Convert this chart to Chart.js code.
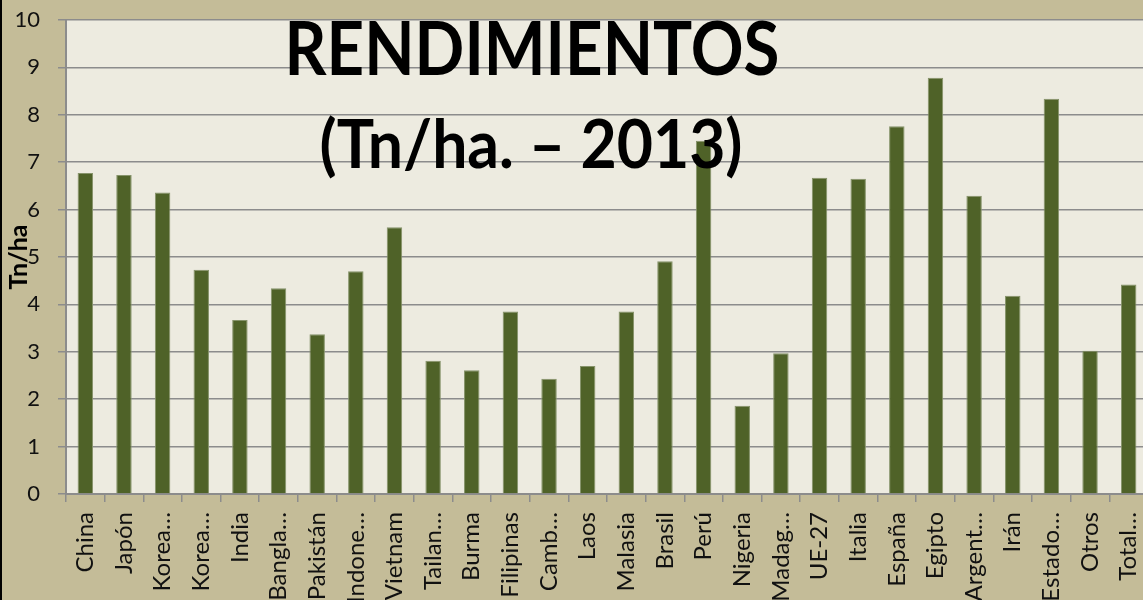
<!DOCTYPE html>
<html lang="es">
<head>
    <meta charset="UTF-8">
    <title>Rendimientos 2013</title>
    <script src="https://cdn.jsdelivr.net/npm/chart.js"></script>
    <style>
        body {
            margin: 0;
            overflow: hidden;
            background-color: #c4bc98;
        }

        .chart-container {
            position: absolute;
            left: 0;
            top: 0;
            width: 1148px;
            height: 620px;
        }

        .edge {
            position: absolute;
            left: 0;
            top: 0;
            width: 2px;
            height: 600px;
            background: #000;
        }
    </style>
</head>
<body>
<div class="chart-container"><canvas id="yieldChart"></canvas></div>
<div class="edge"></div>

<script>
    const countries = ['China', 'Japón', 'Korea…', 'Korea…', 'India', 'Bangla…', 'Pakistán', 'Indone…', 'Vietnam',
        'Tailan…', 'Burma', 'Filipinas', 'Camb…', 'Laos', 'Malasia', 'Brasil', 'Perú', 'Nigeria', 'Madag…',
        'UE-27', 'Italia', 'España', 'Egipto', 'Argent…', 'Irán', 'Estado…', 'Otros', 'Total…'];
    const yields2013 = [6.77, 6.73, 6.36, 4.73, 3.67, 4.34, 3.37, 4.70, 5.63,
        2.81, 2.61, 3.85, 2.43, 2.70, 3.85, 4.91, 7.45, 1.86, 2.97,
        6.67, 6.65, 7.76, 8.78, 6.29, 4.18, 8.34, 3.02, 4.42];
    const yMin = 0;
    const yMax = 10;
    const yStep = 1;
    const titleLines = ['RENDIMIENTOS', '(Tn/ha. – 2013)'];
    const yAxisTitle = 'Tn/ha';

    // plot area background
    const plotBackground = {
        id: 'plotBackground',
        beforeDraw(chart) {
            const {ctx, chartArea} = chart;
            ctx.save();
            ctx.fillStyle = '#edebe0';
            ctx.fillRect(chartArea.left, chartArea.top, chartArea.right - chartArea.left, chartArea.bottom - chartArea.top);
            ctx.restore();
        }
    };

    // big title drawn over the bars, squeezed to the width of the original
    function drawSqueezed(ctx, text, cx, baseline, font, width) {
        ctx.font = font;
        const w = ctx.measureText(text).width;
        ctx.save();
        ctx.translate(cx, baseline);
        ctx.scale(width / w, 1);
        ctx.fillText(text, 0, 0);
        ctx.restore();
    }

    const overlayTitle = {
        id: 'overlayTitle',
        afterDraw(chart) {
            const ctx = chart.ctx;
            ctx.save();
            ctx.fillStyle = '#000';
            ctx.textAlign = 'center';
            ctx.textBaseline = 'alphabetic';
            drawSqueezed(ctx, titleLines[0], 532, 75, 'bold 74px Lato', 495);
            drawSqueezed(ctx, titleLines[1], 531, 168, 'bold 67px Lato', 423);
            ctx.restore();
        }
    };

    new Chart(document.getElementById('yieldChart'), {
        type: 'bar',
        data: {
            labels: countries,
            datasets: [{
                label: 'Rendimiento',
                data: yields2013,
                backgroundColor: '#4f6228',
                borderColor: '#86936a',
                borderWidth: 1,
                barPercentage: 0.4,
                categoryPercentage: 1
            }]
        },
        options: {
            responsive: true,
            maintainAspectRatio: false,
            animation: false,
            layout: {padding: {top: 20, left: 0, right: 0, bottom: 0}},
            plugins: {
                legend: {display: false},
                tooltip: {enabled: false}
            },
            scales: {
                x: {
                    afterFit(scale) {
                        scale.height = 126;
                        scale.paddingLeft = 0;
                        scale.paddingRight = 0;
                    },
                    grid: {
                        drawOnChartArea: false,
                        drawTicks: true,
                        tickLength: 8,
                        color: '#8c8c8c',
                        lineWidth: 1.5
                    },
                    border: {color: '#8c8c8c', width: 2},
                    ticks: {
                        minRotation: 90,
                        maxRotation: 90,
                        autoSkip: false,
                        padding: 10,
                        color: '#111',
                        font: {family: 'Lato', size: 24}
                    }
                },
                y: {
                    min: yMin,
                    max: yMax,
                    afterFit(scale) {
                        scale.width = 66;
                        scale.paddingTop = 0;
                        scale.paddingBottom = 0;
                    },
                    grid: {
                        color: '#8c8c8c',
                        lineWidth: 1.5,
                        tickLength: 8
                    },
                    border: {color: '#8c8c8c', width: 2},
                    ticks: {
                        stepSize: yStep,
                        padding: 18,
                        color: '#111',
                        font: {family: 'Lato', size: 22}
                    },
                    title: {
                        display: true,
                        text: yAxisTitle,
                        color: '#000',
                        font: {family: 'Lato', size: 25, weight: 'bold'},
                        padding: {top: 4, bottom: 0}
                    }
                }
            }
        },
        plugins: [plotBackground, overlayTitle]
    });
</script>
</body>
</html>
